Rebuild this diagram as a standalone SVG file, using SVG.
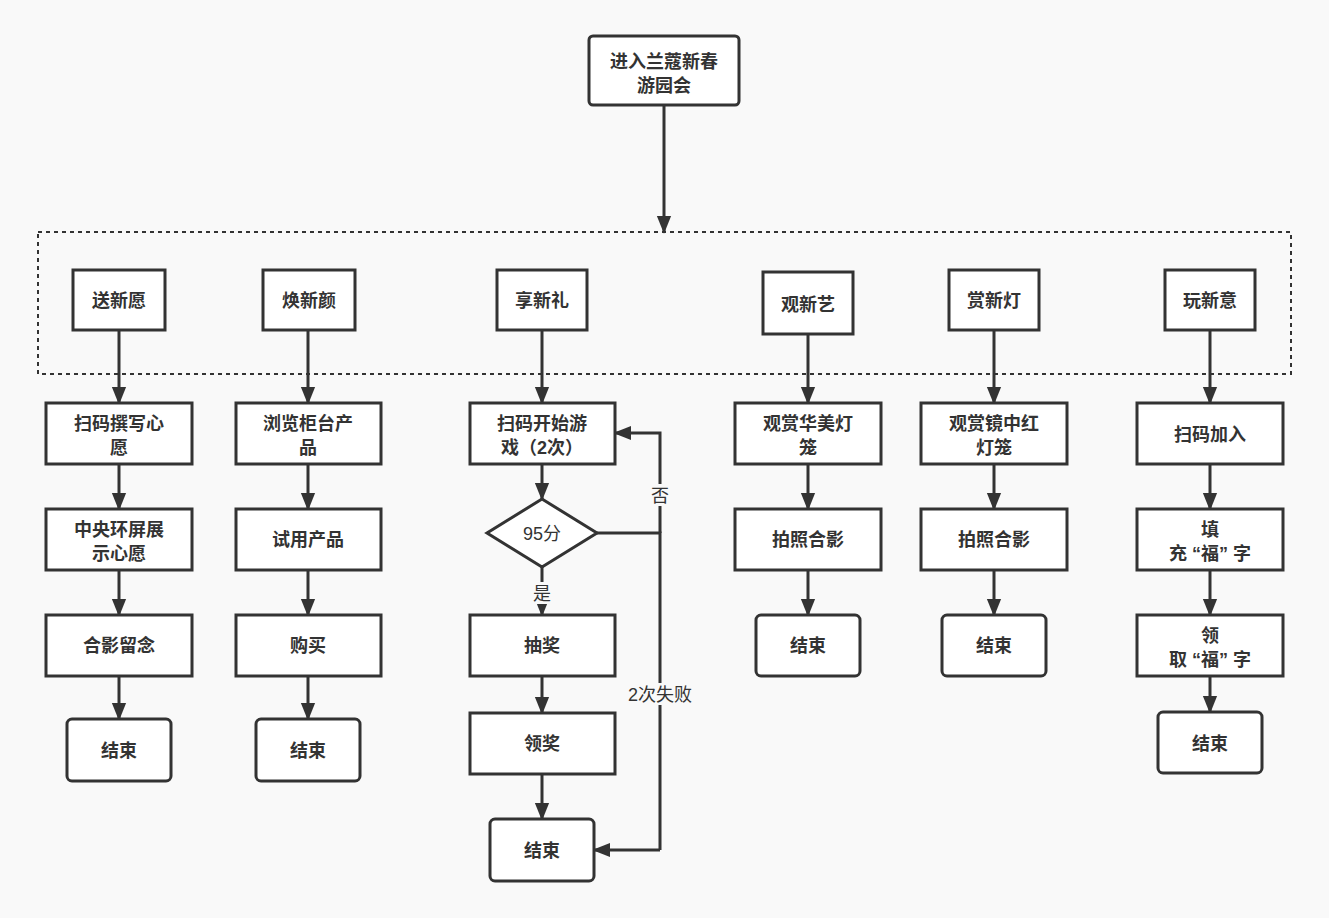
<svg xmlns="http://www.w3.org/2000/svg" width="1329" height="918" viewBox="0 0 1329 918">
<style>
.b{fill:#fff;stroke:#333;stroke-width:3}
.t{font-family:"Liberation Sans","Noto Sans CJK SC",sans-serif;font-size:18px;font-weight:bold;fill:#333;text-anchor:middle}
.l{font-family:"Liberation Sans","Noto Sans CJK SC",sans-serif;font-size:18px;fill:#333;text-anchor:middle}
.c{fill:none;stroke:#333;stroke-width:3}
</style>
<defs><marker id="a" viewBox="0 0 10 10" refX="9" refY="5" markerWidth="6" markerHeight="6" orient="auto" markerUnits="strokeWidth"><path d="M0,1L10,5L0,9z" fill="#333"/></marker></defs>
<rect width="1329" height="918" fill="#f9f9f9"/>
<rect x="38" y="232" width="1253" height="142" fill="none" stroke="#333" stroke-width="2" stroke-dasharray="4,4"/>
<g id="connectors">
<path class="c" marker-end="url(#a)" d="M664,105V232"/>
<path class="c" marker-end="url(#a)" d="M119,330V403"/><path class="c" marker-end="url(#a)" d="M119,464V509"/><path class="c" marker-end="url(#a)" d="M119,570V615"/><path class="c" marker-end="url(#a)" d="M119,676V719"/>
<path class="c" marker-end="url(#a)" d="M308,330V403"/><path class="c" marker-end="url(#a)" d="M308,464V509"/><path class="c" marker-end="url(#a)" d="M308,570V615"/><path class="c" marker-end="url(#a)" d="M308,676V719"/>
<path class="c" marker-end="url(#a)" d="M542,330V403"/><path class="c" marker-end="url(#a)" d="M542,464V499"/><path class="c" marker-end="url(#a)" d="M542,567V615"/><path class="c" marker-end="url(#a)" d="M542,676V713"/><path class="c" marker-end="url(#a)" d="M542,774V819"/>
<path class="c" d="M597,533H660V850"/>
<path class="c" marker-end="url(#a)" d="M660,533V433H615"/>
<path class="c" marker-end="url(#a)" d="M660,850H594"/>
<path class="c" marker-end="url(#a)" d="M808,334V403"/><path class="c" marker-end="url(#a)" d="M808,464V509"/><path class="c" marker-end="url(#a)" d="M808,570V615"/>
<path class="c" marker-end="url(#a)" d="M994,330V403"/><path class="c" marker-end="url(#a)" d="M994,464V509"/><path class="c" marker-end="url(#a)" d="M994,570V615"/>
<path class="c" marker-end="url(#a)" d="M1210,330V403"/><path class="c" marker-end="url(#a)" d="M1210,464V509"/><path class="c" marker-end="url(#a)" d="M1210,570V615"/><path class="c" marker-end="url(#a)" d="M1210,676V712"/>
<rect x="648" y="484" width="24" height="22" fill="#f9f9f9"/><text class="l" x="660" y="502">否</text>
<rect x="530" y="582" width="24" height="22" fill="#f9f9f9"/><text class="l" x="542" y="600">是</text>
<rect x="624" y="683" width="72" height="22" fill="#f9f9f9"/><text class="l" x="660" y="701">2次失败</text>
</g>
<g id="start"><rect class="b" x="589" y="36" width="150" height="69" rx="4"/><text class="t" x="664" y="68">进入兰蔻新春</text><text class="t" x="664" y="92">游园会</text></g>
<g id="h1"><rect class="b" x="73" y="270" width="92" height="60"/><text class="t" x="119" y="307">送新愿</text></g>
<g id="h2"><rect class="b" x="263" y="270" width="92" height="60"/><text class="t" x="309" y="307">焕新颜</text></g>
<g id="h3"><rect class="b" x="497" y="270" width="90" height="60"/><text class="t" x="542" y="307">享新礼</text></g>
<g id="h4"><rect class="b" x="763" y="272" width="90" height="62"/><text class="t" x="808" y="311">观新艺</text></g>
<g id="h5"><rect class="b" x="949" y="270" width="90" height="60"/><text class="t" x="994" y="307">赏新灯</text></g>
<g id="h6"><rect class="b" x="1165" y="270" width="90" height="60"/><text class="t" x="1210" y="307">玩新意</text></g>
<g id="c1a"><rect class="b" x="46" y="403" width="146" height="61"/><text class="t" x="119" y="430">扫码撰写心</text><text class="t" x="119" y="454">愿</text></g>
<g id="c1b"><rect class="b" x="46" y="509" width="146" height="61"/><text class="t" x="119" y="536">中央环屏展</text><text class="t" x="119" y="560">示心愿</text></g>
<g id="c1c"><rect class="b" x="46" y="615" width="146" height="61"/><text class="t" x="119" y="652">合影留念</text></g>
<g id="c1d"><rect class="b" x="67" y="719" width="104" height="62" rx="5"/><text class="t" x="119" y="757">结束</text></g>
<g id="c2a"><rect class="b" x="236" y="403" width="145" height="61"/><text class="t" x="308" y="430">浏览柜台产</text><text class="t" x="308" y="454">品</text></g>
<g id="c2b"><rect class="b" x="236" y="509" width="145" height="61"/><text class="t" x="308" y="546">试用产品</text></g>
<g id="c2c"><rect class="b" x="236" y="615" width="145" height="61"/><text class="t" x="308" y="652">购买</text></g>
<g id="c2d"><rect class="b" x="256" y="719" width="104" height="62" rx="5"/><text class="t" x="308" y="757">结束</text></g>
<g id="c3a"><rect class="b" x="470" y="403" width="145" height="61"/><text class="t" x="542" y="430">扫码开始游</text><text class="t" x="542" y="454">戏（2次）</text></g>
<g id="c3d"><path class="b" d="M542,499L597,533L542,567L487,533Z"/><text class="l" x="542" y="540">95分</text></g>
<g id="c3b"><rect class="b" x="470" y="615" width="145" height="61"/><text class="t" x="542" y="652">抽奖</text></g>
<g id="c3c"><rect class="b" x="470" y="713" width="145" height="61"/><text class="t" x="542" y="750">领奖</text></g>
<g id="c3e"><rect class="b" x="490" y="819" width="104" height="62" rx="5"/><text class="t" x="542" y="857">结束</text></g>
<g id="c4a"><rect class="b" x="735" y="403" width="146" height="61"/><text class="t" x="808" y="430">观赏华美灯</text><text class="t" x="808" y="454">笼</text></g>
<g id="c4b"><rect class="b" x="735" y="509" width="146" height="61"/><text class="t" x="808" y="546">拍照合影</text></g>
<g id="c4c"><rect class="b" x="756" y="615" width="104" height="61" rx="5"/><text class="t" x="808" y="652">结束</text></g>
<g id="c5a"><rect class="b" x="921" y="403" width="146" height="61"/><text class="t" x="994" y="430">观赏镜中红</text><text class="t" x="994" y="454">灯笼</text></g>
<g id="c5b"><rect class="b" x="921" y="509" width="146" height="61"/><text class="t" x="994" y="546">拍照合影</text></g>
<g id="c5c"><rect class="b" x="942" y="615" width="104" height="61" rx="5"/><text class="t" x="994" y="652">结束</text></g>
<g id="c6a"><rect class="b" x="1137" y="403" width="146" height="61"/><text class="t" x="1210" y="441">扫码加入</text></g>
<g id="c6b"><rect class="b" x="1137" y="509" width="146" height="61"/><text class="t" x="1210" y="536">填</text><text class="t" x="1210" y="560" xml:space="preserve">充 “福” 字</text></g>
<g id="c6c"><rect class="b" x="1137" y="615" width="146" height="61"/><text class="t" x="1210" y="642">领</text><text class="t" x="1210" y="666" xml:space="preserve">取 “福” 字</text></g>
<g id="c6d"><rect class="b" x="1158" y="712" width="104" height="61" rx="5"/><text class="t" x="1210" y="750">结束</text></g>
</svg>
